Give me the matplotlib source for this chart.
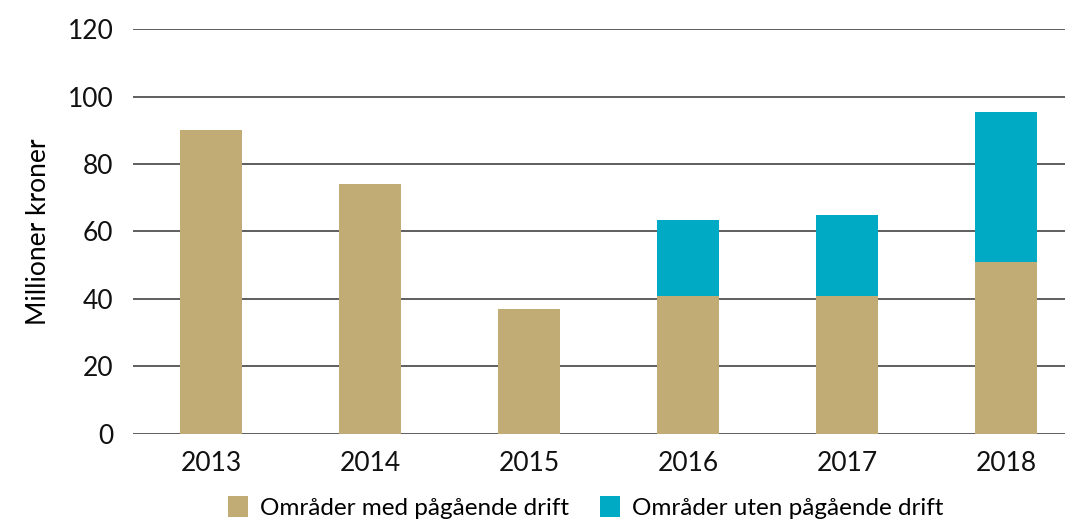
import matplotlib.pyplot as plt
import numpy as np

years = ['2013', '2014', '2015', '2016', '2017', '2018']
med_drift = [90, 74, 37, 41, 41, 51]
uten_drift = [0, 0, 0, 22.5, 24, 44.5]
labels = ['Områder med pågående drift', 'Områder uten pågående drift']

tan = '#C2AC76'
teal = '#00A9C4'

plt.rcParams['font.family'] = ['Lato', 'DejaVu Sans']

fig = plt.figure(figsize=(10.65, 5.19), dpi=100)
ax = fig.add_axes([0.1249, 0.1638, 0.8751, 0.7803])

x = np.arange(len(years))
w = 0.39
b1 = ax.bar(x, med_drift, w, color=tan, zorder=3, label=labels[0])
b2 = ax.bar(x, uten_drift, w, bottom=med_drift, color=teal, zorder=3, label=labels[1])

ax.set_ylim(0, 120)
ax.set_yticks(range(0, 121, 20))
ax.set_xlim(-0.49, 5.37)
ax.set_xticks(x)
ax.set_xticklabels(years)
ax.yaxis.grid(True, color='#333333', linewidth=1.1, zorder=0)
for s in ax.spines.values():
    s.set_visible(False)
ax.tick_params(length=0, labelsize=19, colors='#111111')
ax.tick_params(axis='y', pad=14)
ax.tick_params(axis='x', pad=12)
ax.set_ylabel('Millioner kroner', fontsize=19, labelpad=12)

fig.legend(handles=[b1, b2], loc='center', bbox_to_anchor=(0.55, 0.022),
           ncol=2, frameon=False, fontsize=17.5, handlelength=0.8, handleheight=0.9,
           columnspacing=1.3, handletextpad=0.5, borderpad=0.2)

plt.savefig('out.png', dpi=100)
